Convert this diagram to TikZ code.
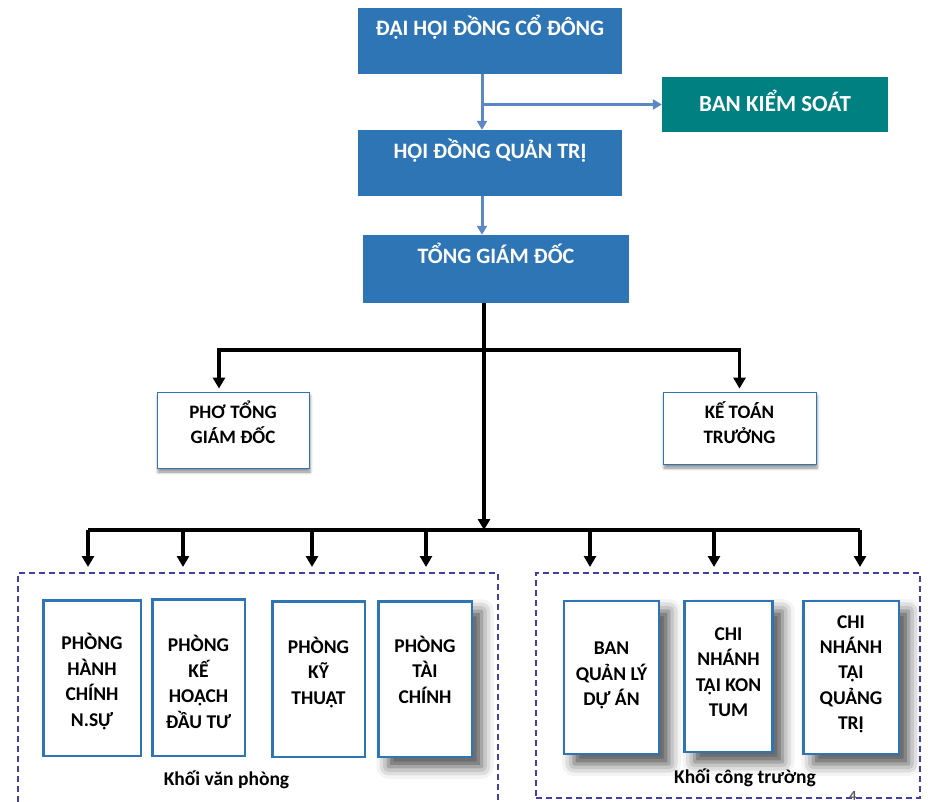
\documentclass[tikz,border=0pt]{standalone}
\usepackage{fontspec}
\setmainfont{Carlito}
\usetikzlibrary{positioning,arrows.meta,shadows.blur}

\definecolor{boardblue}{HTML}{2E75B6}
\definecolor{auditteal}{HTML}{008080}
\definecolor{linkblue}{HTML}{5B87C5}
\definecolor{groupdash}{HTML}{4040A8}
\definecolor{pagegray}{HTML}{5A5A5A}

\begin{document}
\begin{tikzpicture}[x=1pt, y=-1pt,
		boardshape/.style={fill=boardblue, inner sep=0pt},
		boardtext/.style={text=white, inner sep=0pt, anchor=base, font=\fontsize{22}{26}\selectfont\bfseries},
		auditshape/.style={fill=auditteal, inner sep=0pt, minimum width=226pt, minimum height=55pt},
		deputyshape/.style={draw=boardblue, line width=0.8pt, fill=white, inner sep=0pt, blur shadow={shadow xshift=1pt, shadow yshift=-4pt, shadow blur radius=3pt, shadow opacity=45}},
		deptshape/.style={draw=boardblue, line width=2.5pt, fill=white, inner sep=0pt},
		deepshadow/.style={blur shadow={shadow xshift=10pt, shadow yshift=-10pt, shadow blur radius=12pt, shadow opacity=70}},
		unittext/.style={inner sep=0pt, anchor=base, align=center, font=\fontsize{19.5}{25.4}\selectfont\bfseries},
		groupshape/.style={draw=groupdash, line width=1.2pt, dash pattern=on 6pt off 4pt, inner sep=0pt},
		boardlink/.style={draw=linkblue, line width=3pt, -{Triangle[width=10pt,length=9pt]}},
		orgline/.style={line width=3.2pt},
		orgarrow/.style={orgline, -{Triangle[width=12pt,length=11pt]}},
	]
	\useasboundingbox (0,0) rectangle (928,802);

	\node [groupshape, minimum width=480pt, minimum height=237pt] (office) at (258,691.5) {};
	\node [groupshape, minimum width=384pt, minimum height=225pt] (site) at (728,685.5) {};

	\node [boardshape, minimum width=264pt, minimum height=66pt, label={[boardtext, yshift=-28pt]north:ĐẠI HỘI ĐỒNG CỔ ĐÔNG}] (dhdcd) at (490,41) {};
	\node [auditshape, label={[boardtext, yshift=-35pt, font=\fontsize{23}{27}\selectfont\bfseries]north:BAN KIỂM SOÁT}] (bks) at (775,104.5) {};
	\node [boardshape, minimum width=264pt, minimum height=66pt, label={[boardtext, yshift=-29pt]north:HỘI ĐỒNG QUẢN TRỊ}] (hdqt) at (490,163) {};
	\node [boardshape, minimum width=266pt, minimum height=68pt, label={[boardtext, yshift=-29pt]north:TỔNG GIÁM ĐỐC}] (tgd) at (496,269) {};

	\node [deputyshape, minimum width=152pt, minimum height=76pt, label={[unittext, font=\fontsize{19}{25}\selectfont\bfseries, yshift=-52pt]north:PHƠ TỔNG\\GIÁM ĐỐC}] (ptgd) at (233,430) {};
	\node [deputyshape, minimum width=153pt, minimum height=72pt, label={[unittext, font=\fontsize{19}{25}\selectfont\bfseries, yshift=-52pt]north:KẾ TOÁN\\TRƯỞNG}] (ktt) at (739.5,428) {};

	\node [deptshape, minimum width=97.5pt, minimum height=155.5pt, label={[unittext, yshift=-127pt]north:PHÒNG\\HÀNH\\CHÍNH\\N.SỰ}] (hcns) at (92,678) {};
	\node [deptshape, minimum width=92.5pt, minimum height=156.5pt, label={[unittext, yshift=-130pt]north:PHÒNG\\KẾ\\HOẠCH\\ĐẦU TƯ}] (khdt) at (198.5,677.5) {};
	\node [deptshape, minimum width=92.5pt, minimum height=155.5pt, label={[unittext, yshift=-104pt]north:PHÒNG\\KỸ\\THUẬT}] (kt) at (318.5,679) {};
	\node [deptshape, deepshadow, minimum width=93.5pt, minimum height=155.5pt, label={[unittext, yshift=-103pt]north:PHÒNG\\TÀI\\CHÍNH}] (tc) at (425,679) {};

	\node [deptshape, deepshadow, minimum width=95pt, minimum height=153pt, label={[unittext, yshift=-106pt]north:BAN\\QUẢN LÝ\\DỰ ÁN}] (bql) at (611.5,677.5) {};
	\node [deptshape, deepshadow, minimum width=88pt, minimum height=151pt, label={[unittext, yshift=-117pt]north:CHI\\NHÁNH\\TẠI KON\\TUM}] (kontum) at (728.5,676.5) {};
	\node [deptshape, deepshadow, minimum width=95.5pt, minimum height=153pt, label={[unittext, yshift=-130pt]north:CHI\\NHÁNH\\TẠI\\QUẢNG\\TRỊ}] (quangtri) at (851,677.5) {};

	\node [unittext] (officename) at (226.5,785) {Khối văn phòng};
	\node [unittext] (sitename) at (745,783) {Khối công trường};
	\node [inner sep=0pt, anchor=base, text=pagegray, font=\fontsize{14}{17}\selectfont\bfseries] (pageno) at (853,800) {4};

	\coordinate (fork) at ([xshift=-8pt]hdqt.north |- bks.west);
	\draw[boardlink] ([xshift=-8pt]dhdcd.south) -- ([xshift=-8pt]hdqt.north);
	\draw[boardlink] (fork) -- (bks.west);
	\draw[boardlink] ([xshift=-8pt]hdqt.south) -- ([xshift=-8pt]hdqt.south |- tgd.north);

	\coordinate (trunk) at ([xshift=-12pt]tgd.south);
	\coordinate (split) at (484,350);
	\coordinate (bus) at (484,530);
	\coordinate (buswest) at (88,530);
	\coordinate (buseast) at (860,530);

	\draw[orgline] (trunk) -- (split);
	\draw[orgarrow, shorten >=3pt] (split) -| ([xshift=-14pt]ptgd.north);
	\draw[orgarrow, shorten >=3pt] (split) -| (ktt.north);
	\draw[orgarrow] (split) -- (bus);
	\draw[orgline] (buswest) -- (buseast);
	\foreach \x [count=\i] in {88,183,312,426,590,714,860} {
		\coordinate (drop\i) at (\x,567);
		\draw[orgarrow] (drop\i |- bus) -- (drop\i);
	}
\end{tikzpicture}
\end{document}
